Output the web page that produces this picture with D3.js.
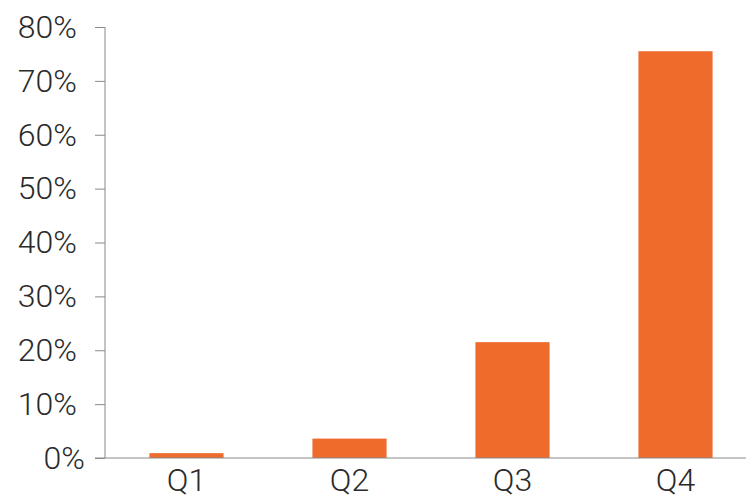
<!DOCTYPE html>
<html>
<head>
<meta charset="utf-8">
<script src="https://cdn.jsdelivr.net/npm/d3@7"></script>
<style>
body { margin: 0; background: #fff; }
text { font-family: Roboto, "Liberation Sans", sans-serif; font-weight: 300; fill: #2a2a2a; }
</style>
</head>
<body>
<div id="chart"></div>
<script>
var quarters = ["Q1", "Q2", "Q3", "Q4"];
var shares = [0.9, 3.6, 21.5, 75.5];
var yTicks = [0, 10, 20, 30, 40, 50, 60, 70, 80];

var width = 746, height = 500;
var svg = d3.select("#chart").append("svg").attr("width", width).attr("height", height);

var x = d3.scaleBand().domain(quarters).range([105, 757]).paddingInner(0.545).paddingOuter(0.2725);
var y = d3.scaleLinear().domain([0, 80]).range([458, 27]);

// bars
svg.append("g").selectAll("rect")
    .data(quarters)
    .enter().append("rect")
    .attr("x", function(d) { return x(d); })
    .attr("width", x.bandwidth())
    .attr("y", function(d, i) { return y(shares[i]); })
    .attr("height", function(d, i) { return y(0) - y(shares[i]); })
    .attr("fill", "#ee6b2c");

// y axis
var yAxis = svg.append("g").attr("transform", "translate(105,0)")
    .call(d3.axisLeft(y).tickValues(yTicks).tickSize(10).tickPadding(18).tickFormat(function(d) { return d + "%"; }));
yAxis.select(".domain").attr("stroke", "#8a8a8a").attr("d", "M0," + y(80) + "V" + y(0));
yAxis.selectAll(".tick line").attr("stroke", "#8a8a8a");
yAxis.selectAll(".tick text").style("font-size", "32px").attr("fill", "#2a2a2a")
    .attr("dx", function(d) { return d === 0 ? 8 : 0; });

// x baseline + labels
var xAxis = svg.append("g").attr("transform", "translate(0," + y(0) + ")")
    .call(d3.axisBottom(x).tickSize(0).tickPadding(10));
xAxis.select(".domain").attr("stroke", "#8a8a8a").attr("d", "M95,0H746");
xAxis.selectAll(".tick text").style("font-size", "32px").attr("fill", "#2a2a2a");
</script>
</body>
</html>
